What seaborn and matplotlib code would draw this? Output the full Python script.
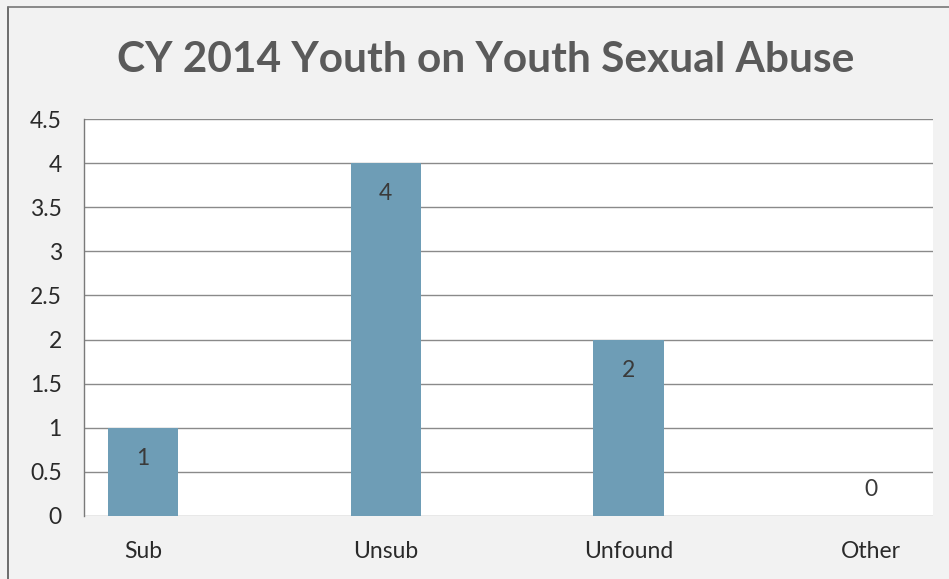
import matplotlib
matplotlib.use("Agg")
import matplotlib.pyplot as plt
import seaborn as sns
import pandas as pd
from matplotlib.lines import Line2D

# chart data
categories = ["Sub", "Unsub", "Unfound", "Other"]
counts = [1, 4, 2, 0]
title = "CY 2014 Youth on Youth Sexual Abuse"

sns.set_style("white")
plt.rcParams["font.family"] = ["Lato", "DejaVu Sans"]

df = pd.DataFrame({"category": categories, "count": counts})

fig = plt.figure(figsize=(9.49, 5.79), dpi=100, facecolor="#f2f2f2")
ax = fig.add_axes([84 / 949, 1 - 516 / 579, 849 / 949, 397 / 579])
ax.set_facecolor("white")

sns.barplot(data=df, x="category", y="count", color="#6e9db6",
            saturation=1, width=0.29, edgecolor="none", ax=ax, zorder=3)

ax.set_xlim(-0.243, 3.254)
ax.set_ylim(0, 4.5)
ax.set_yticks([0, 0.5, 1, 1.5, 2, 2.5, 3, 3.5, 4, 4.5])
ax.set_yticklabels(["0", "0.5", "1", "1.5", "2", "2.5", "3", "3.5", "4", "4.5"])
ax.yaxis.grid(True, color="#8a8a8a", linewidth=1.0, zorder=0)
ax.set_axisbelow(True)
ax.tick_params(axis="both", length=0, labelsize=16.5, labelcolor="#2a2a2a")
ax.tick_params(axis="y", pad=16)
ax.tick_params(axis="x", pad=18)
ax.set_xlabel("")
ax.set_ylabel("")
for side in ["top", "right", "bottom"]:
    ax.spines[side].set_visible(False)
ax.spines["left"].set_color("#7a7a7a")
ax.spines["left"].set_linewidth(1.0)

# data labels (inside end, zero above baseline)
for i, v in enumerate(counts):
    off = -22 if v > 0 else 19
    ax.annotate(str(v), (i, v), xytext=(0, off), textcoords="offset points",
                ha="center", va="center", fontsize=16.5, color="#3a3a3a")

fig.text(486 / 949, 1 - 60 / 579, title, ha="center", va="center",
         fontsize=30.5, fontweight="bold", color="#5a5a5a")

# outer chart border (left and top edges visible)
fig.add_artist(Line2D([8 / 949, 8 / 949], [0, 1 - 7 / 579],
                      transform=fig.transFigure, color="#555555", linewidth=1.2))
fig.add_artist(Line2D([8 / 949, 1], [1 - 7 / 579, 1 - 7 / 579],
                      transform=fig.transFigure, color="#777777", linewidth=1.2))

fig.savefig("out.png", dpi=100, facecolor=fig.get_facecolor())
